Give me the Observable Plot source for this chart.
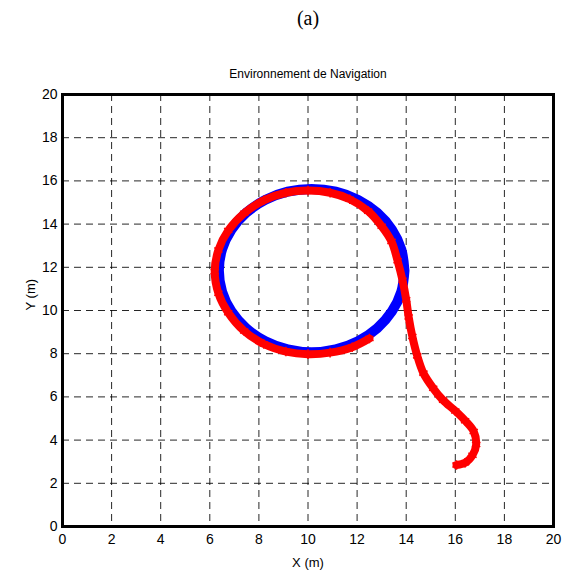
<!DOCTYPE html>
<html>
<head>
<meta charset="utf-8">
<script src="https://cdn.jsdelivr.net/npm/d3@7"></script>
<script src="https://cdn.jsdelivr.net/npm/@observablehq/plot@0.6"></script>
<style>
  html, body { margin: 0; padding: 0; background: #fff; }
</style>
</head>
<body>
<div id="chart"></div>
<script>
const xTicks = [0, 2, 4, 6, 8, 10, 12, 14, 16, 18, 20];
const yTicks = [0, 2, 4, 6, 8, 10, 12, 14, 16, 18, 20];

// Reference trajectory (blue circle)
const refX = [13.93, 13.80, 13.42, 12.82, 12.04, 11.13, 10.15, 9.17, 8.26, 7.48, 6.88, 6.50, 6.37, 6.50, 6.88, 7.48, 8.26, 9.17, 10.15, 11.13, 12.04, 12.82, 13.42, 13.80, 13.93];
const refY = [11.85, 12.83, 13.74, 14.52, 15.12, 15.50, 15.63, 15.50, 15.12, 14.52, 13.74, 12.83, 11.85, 10.87, 9.96, 9.18, 8.58, 8.20, 8.07, 8.20, 8.58, 9.18, 9.96, 10.87, 11.85];

// Robot trajectory (red)
const robX = [16.05, 16.40, 16.70, 16.85, 16.75, 16.40, 16.00, 15.50, 15.10, 14.70, 14.45, 14.25, 14.10, 14.00, 13.85, 13.65, 13.40, 13.00, 12.45, 11.70, 10.90, 10.00, 9.10, 8.20, 7.40, 6.75, 6.35, 6.20, 6.35, 6.75, 7.40, 8.20, 9.10, 10.00, 10.90, 11.80, 12.50];
const robY = [2.85, 2.95, 3.30, 3.80, 4.40, 4.90, 5.35, 5.85, 6.40, 7.10, 7.90, 8.80, 9.70, 10.50, 11.40, 12.30, 13.20, 13.90, 14.60, 15.15, 15.45, 15.55, 15.45, 15.10, 14.50, 13.70, 12.80, 11.80, 10.80, 9.90, 9.05, 8.45, 8.10, 7.98, 8.05, 8.30, 8.70];

const ref = refX.map((x, i) => ({x, y: refY[i]}));
const rob = robX.map((x, i) => ({x, y: robY[i]}));

const chart = Plot.plot({
  width: 575,
  height: 574,
  marginLeft: 62,
  marginRight: 22,
  marginTop: 94,
  marginBottom: 48,
  x: {domain: [0, 20], label: null},
  y: {domain: [0, 20], label: null},
  style: {fontFamily: "'Liberation Sans', Arial, sans-serif", fontSize: "14px", color: "#000", background: "#fff"},
  marks: [
    Plot.gridX(xTicks, {stroke: "#000", strokeOpacity: 0.85, strokeDasharray: "7,5"}),
    Plot.gridY(yTicks, {stroke: "#000", strokeOpacity: 0.85, strokeDasharray: "7,5"}),
    Plot.line(ref, {x: "x", y: "y", stroke: "#0000ff", strokeWidth: 10, curve: "catmull-rom"}),
    Plot.line(rob, {x: "x", y: "y", stroke: "#ff0000", strokeWidth: 8, curve: "catmull-rom"}),
    Plot.dot(rob, {x: "x", y: "y", symbol: "asterisk", r: 4.5, stroke: "#ff0000", strokeWidth: 1.5}),
    Plot.frame({stroke: "#000", strokeWidth: 3}),
    Plot.axisX({ticks: xTicks, tickSize: 0, tickPadding: 8, fontSize: 14}),
    Plot.axisY({ticks: yTicks, tickSize: 0, tickPadding: 5, fontSize: 14}),
    Plot.text(["(a)"], {frameAnchor: "top", dy: -76, lineAnchor: "middle", fontSize: 20, fontFamily: "'Liberation Serif', 'Times New Roman', serif"}),
    Plot.text(["Environnement de Navigation"], {frameAnchor: "top", dy: -20, lineAnchor: "middle", fontSize: 12}),
    Plot.text(["X (m)"], {frameAnchor: "bottom", dy: 36, lineAnchor: "middle", fontSize: 13}),
    Plot.text(["Y (m)"], {frameAnchor: "left", dx: -32, rotate: -90, lineAnchor: "middle", fontSize: 13})
  ]
});
document.getElementById("chart").appendChild(chart);
</script>
</body>
</html>
